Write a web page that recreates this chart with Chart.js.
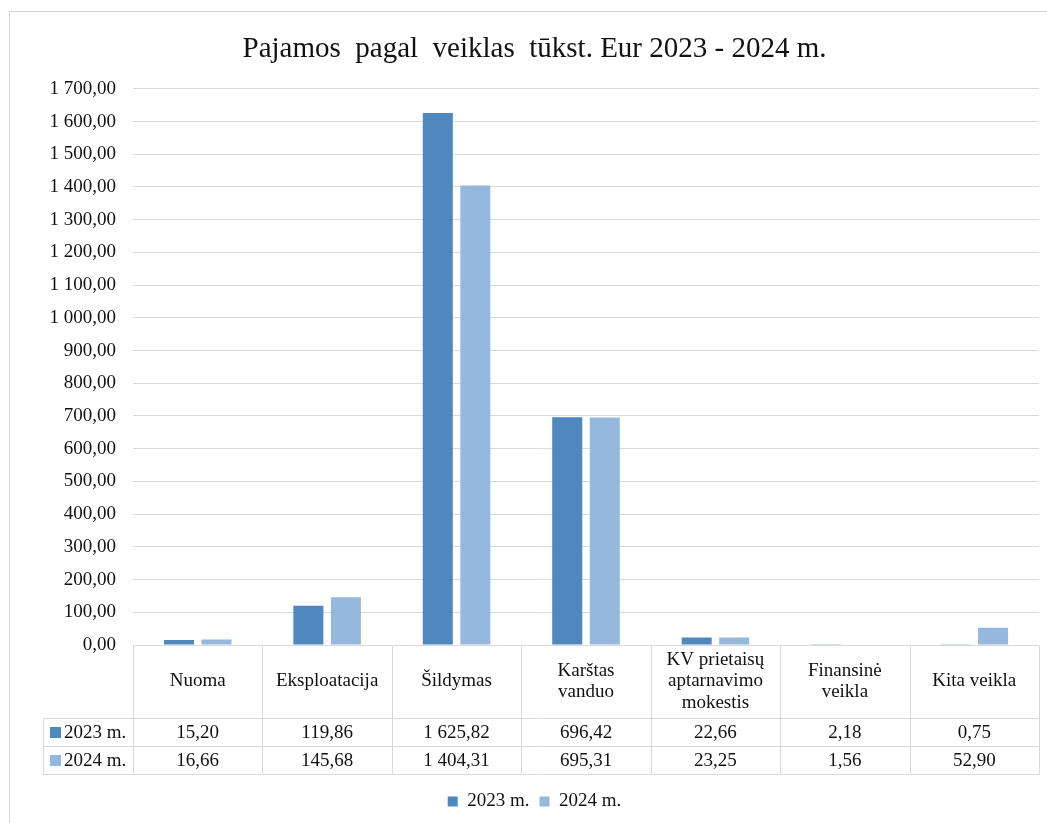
<!DOCTYPE html>
<html lang="lt">
<head>
<meta charset="utf-8">
<title>Pajamos pagal veiklas</title>
<script src="https://cdn.jsdelivr.net/npm/chart.js@4.4.1/dist/chart.umd.min.js"></script>
<style>
    html, body { margin: 0; padding: 0; background: #fff; }
    #wrap { width: 1047px; height: 823px; position: relative; }
</style>
</head>
<body>
<div id="wrap"><canvas id="incomeChart"></canvas></div>
<script>
// ===== Duomenys =====
const categories = [
    'Nuoma',
    'Eksploatacija',
    'Šildymas',
    ['Karštas', 'vanduo'],
    ['KV prietaisų', 'aptarnavimo', 'mokestis'],
    ['Finansinė', 'veikla'],
    'Kita veikla'
];
const seriesNames = ['2023 m.', '2024 m.'];
const values2023 = [15.20, 119.86, 1625.82, 696.42, 22.66, 2.18, 0.75];
const values2024 = [16.66, 145.68, 1404.31, 695.31, 23.25, 1.56, 52.90];
const yMin = 0;
const yMax = 1700;
const yStep = 100;

const colors = ['#4f87bf', '#95b8df'];
const gridColor = '#d9d9d9';
const textColor = '#111';
const serif = "'Liberation Serif', 'Times New Roman', serif";

// 1 625,82 formatas
function fmt(v) {
    const parts = v.toFixed(2).split('.');
    const intPart = parts[0].replace(/\B(?=(\d{3})+(?!\d))/g, ' ');
    return intPart + ',' + parts[1];
}

// ===== Duomenų lentelė po grafiku =====
const dataTable = {
    id: 'dataTable',
    afterDraw(chart) {
        const ctx = chart.ctx;
        const area = chart.chartArea;
        const n = categories.length;
        const colW = (area.right - area.left) / n;
        const top = area.bottom;
        const headerBottom = top + 73;
        const rowH = 28;
        const bottom = headerBottom + rowH * 2;
        const labelLeft = 43;

        ctx.save();
        ctx.strokeStyle = gridColor;
        ctx.lineWidth = 1;
        ctx.beginPath();
        // vertikalios linijos
        for (let i = 0; i <= n; i++) {
            const x = Math.round(area.left + colW * i) + 0.5;
            ctx.moveTo(x, top);
            ctx.lineTo(x, bottom);
        }
        ctx.moveTo(labelLeft + 0.5, headerBottom);
        ctx.lineTo(labelLeft + 0.5, bottom);
        // horizontalios linijos
        for (let r = 0; r <= 2; r++) {
            const y = Math.round(headerBottom + rowH * r) + 0.5;
            ctx.moveTo(labelLeft, y);
            ctx.lineTo(area.right + 1, y);
        }
        ctx.stroke();

        ctx.fillStyle = textColor;
        ctx.font = '19px ' + serif;
        ctx.textAlign = 'center';
        ctx.textBaseline = 'middle';
        const lineH = 21.5;
        categories.forEach((c, i) => {
            const lines = Array.isArray(c) ? c : [c];
            const cx = chart.scales.x.getPixelForValue(i);
            const cy = (top + headerBottom) / 2 - (lines.length - 1) * lineH / 2;
            lines.forEach((l, k) => ctx.fillText(l, cx, cy + k * lineH));
        });

        const rows = [values2023, values2024];
        rows.forEach((vals, r) => {
            const cy = headerBottom + rowH * r + rowH / 2 + 1;
            vals.forEach((v, i) => {
                ctx.fillText(fmt(v), chart.scales.x.getPixelForValue(i), cy);
            });
            ctx.fillStyle = colors[r];
            ctx.fillRect(labelLeft + 7, cy - 6, 11, 11);
            ctx.fillStyle = textColor;
            ctx.textAlign = 'left';
            ctx.fillText(seriesNames[r], labelLeft + 21, cy);
            ctx.textAlign = 'center';
        });

        // išorinis rėmelis
        ctx.strokeStyle = '#d6d6d6';
        ctx.strokeRect(9.5, 11.5, 1200, 1000);
        ctx.restore();
    }
};

const ctx1 = document.getElementById('incomeChart');
new Chart(ctx1, {
    type: 'bar',
    data: {
        labels: categories,
        datasets: [{
            label: seriesNames[0],
            data: values2023,
            backgroundColor: colors[0],
            borderWidth: 0
        }, {
            label: seriesNames[1],
            data: values2024,
            backgroundColor: colors[1],
            borderWidth: 0
        }]
    },
    options: {
        responsive: true,
        maintainAspectRatio: false,
        animation: false,
        categoryPercentage: 0.58,
        barPercentage: 0.8,
        layout: { padding: { left: 30, right: 8, top: 0, bottom: 2 } },
        plugins: {
            title: {
                display: true,
                text: 'Pajamos  pagal  veiklas  tūkst. Eur 2023 - 2024 m.',
                color: textColor,
                font: { family: serif, size: 29, weight: 'normal' },
                padding: { top: 32, bottom: 22 }
            },
            legend: {
                position: 'bottom',
                labels: {
                    color: textColor,
                    font: { family: serif, size: 19 },
                    boxWidth: 10,
                    boxHeight: 10,
                    padding: 10
                }
            },
            tooltip: { enabled: false }
        },
        scales: {
            y: {
                min: yMin,
                max: yMax,
                ticks: {
                    stepSize: yStep,
                    color: textColor,
                    font: { family: serif, size: 19 },
                    padding: 17,
                    callback: v => fmt(v)
                },
                grid: { color: gridColor, drawTicks: false },
                border: { display: false },
                afterFit: s => { s.width = 103; }
            },
            x: {
                ticks: { display: false },
                grid: { display: false },
                border: { display: false },
                afterFit: s => { s.height = 137; }
            }
        }
    },
    plugins: [dataTable]
});
</script>
</body>
</html>
